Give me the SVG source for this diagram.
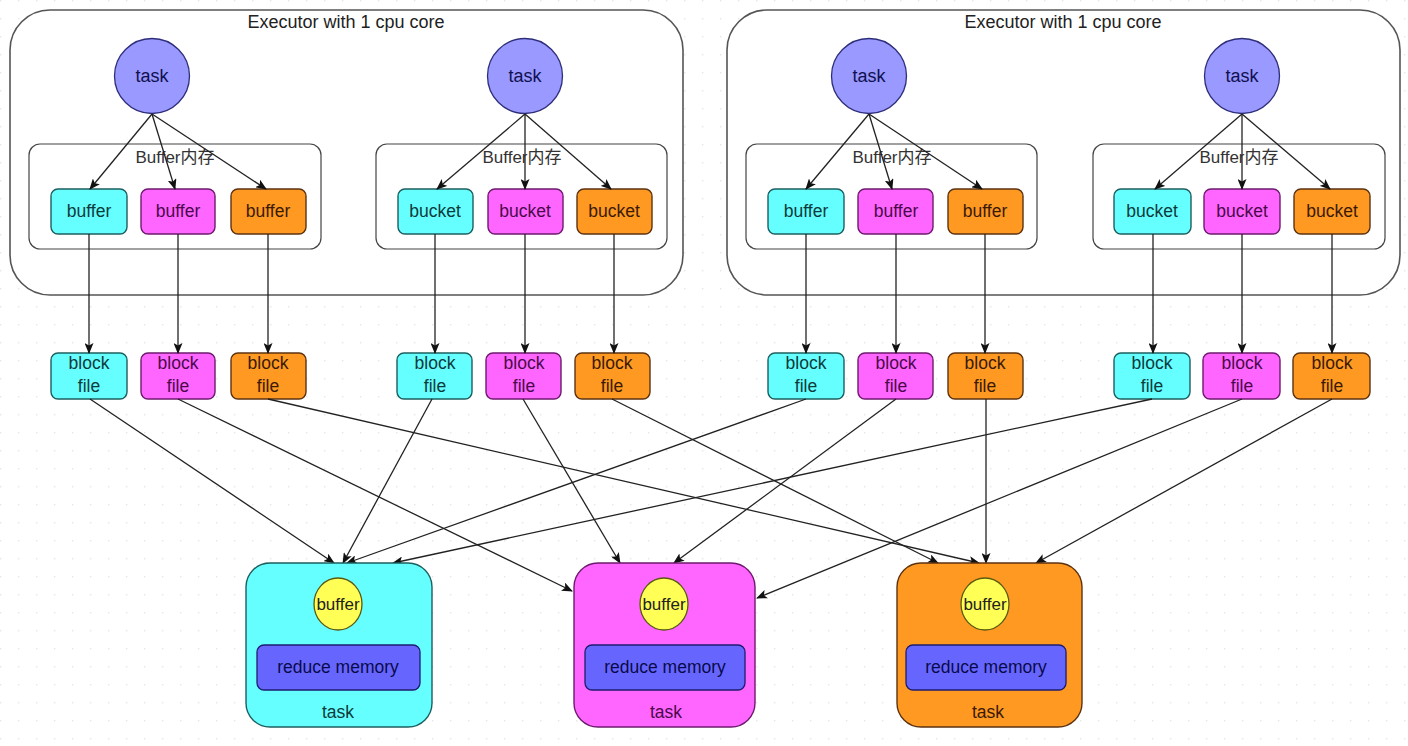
<svg xmlns="http://www.w3.org/2000/svg" width="1408" height="746" viewBox="0 0 1408 746">
<defs>
<pattern id="grid" width="18" height="18" patternUnits="userSpaceOnUse">
<rect x="0" y="0" width="1.4" height="1.4" fill="#e6e6e6"/>
</pattern>
<marker id="ah" markerWidth="11" markerHeight="9" refX="10" refY="4.5" orient="auto" markerUnits="userSpaceOnUse">
<path d="M0,0 L11,4.5 L0,9 L2.5,4.5 z" fill="#111"/>
</marker>
<style>
text{font-family:"Liberation Sans",Arial,"Noto Sans CJK SC",sans-serif;text-anchor:middle;}
.exec{fill:#fff;stroke:#555;stroke-width:1.6;}
.buf{fill:#fff;stroke:#444;stroke-width:1.2;}
.title{font-size:18px;fill:#222;}
.blab{font-size:17px;fill:#333;}
.tc{fill:#9999ff;stroke:#2e2e7a;stroke-width:1.3;}
.tct{font-size:18px;fill:#101050;}
.cy{fill:#66ffff;stroke:#1d5f5f;stroke-width:1.4;}
.mg{fill:#ff66ff;stroke:#6e1a6e;stroke-width:1.4;}
.or{fill:#ff9922;stroke:#5c3311;stroke-width:1.4;}
.cyt{font-size:17.5px;fill:#0d3b3b;}
.mgt{font-size:17.5px;fill:#4a0a4a;}
.ort{font-size:17.5px;fill:#3b1a05;}
.yc{fill:#ffff55;stroke:#5a5a10;stroke-width:1.3;}
.yct{font-size:17px;fill:#222;}
.rm{fill:#6666ff;stroke:#1d1d70;stroke-width:1.3;}
.rmt{font-size:17.5px;fill:#0a0a4a;}
.c{fill:none;stroke:#222;stroke-width:1.3;marker-end:url(#ah);}
</style>
</defs>
<rect x="0" y="0" width="1408" height="746" fill="#fff"/>
<rect x="0" y="0" width="1408" height="746" fill="url(#grid)"/>

<g id="executor1">
<rect class="exec" x="10" y="10" width="673" height="285" rx="40"/>
<text class="title" x="346" y="28">Executor with 1 cpu core</text>
</g>
<g id="executor2">
<rect class="exec" x="727" y="10" width="673" height="285" rx="40"/>
<text class="title" x="1063" y="28">Executor with 1 cpu core</text>
</g>

<g id="buffermem1"><rect class="buf" x="29" y="144" width="292" height="105" rx="11"/><text class="blab" x="175" y="163">Buffer内存</text></g>
<g id="buffermem2"><rect class="buf" x="376" y="144" width="291" height="105" rx="11"/><text class="blab" x="522" y="163">Buffer内存</text></g>
<g id="buffermem3"><rect class="buf" x="746" y="144" width="291" height="105" rx="11"/><text class="blab" x="892" y="163">Buffer内存</text></g>
<g id="buffermem4"><rect class="buf" x="1093" y="144" width="292" height="105" rx="11"/><text class="blab" x="1239" y="163">Buffer内存</text></g>

<g id="task1"><circle class="tc" cx="152" cy="76" r="37.5"/><text class="tct" x="152" y="82">task</text></g>
<g id="task2"><circle class="tc" cx="525" cy="76" r="37.5"/><text class="tct" x="525" y="82">task</text></g>
<g id="task3"><circle class="tc" cx="869" cy="76" r="37.5"/><text class="tct" x="869" y="82">task</text></g>
<g id="task4"><circle class="tc" cx="1242" cy="76" r="37.5"/><text class="tct" x="1242" y="82">task</text></g>

<g id="buf1c"><rect class="cy" x="51" y="189" width="76" height="45" rx="7"/><text class="cyt" x="89" y="217">buffer</text></g>
<g id="buf1m"><rect class="mg" x="141" y="189" width="74" height="45" rx="7"/><text class="mgt" x="178" y="217">buffer</text></g>
<g id="buf1o"><rect class="or" x="231" y="189" width="75" height="45" rx="7"/><text class="ort" x="268" y="217">buffer</text></g>
<g id="bkt2c"><rect class="cy" x="398" y="189" width="75" height="45" rx="7"/><text class="cyt" x="435" y="217">bucket</text></g>
<g id="bkt2m"><rect class="mg" x="488" y="189" width="75" height="45" rx="7"/><text class="mgt" x="525" y="217">bucket</text></g>
<g id="bkt2o"><rect class="or" x="577" y="189" width="75" height="45" rx="7"/><text class="ort" x="614" y="217">bucket</text></g>
<g id="buf3c"><rect class="cy" x="768" y="189" width="76" height="45" rx="7"/><text class="cyt" x="806" y="217">buffer</text></g>
<g id="buf3m"><rect class="mg" x="858" y="189" width="75" height="45" rx="7"/><text class="mgt" x="896" y="217">buffer</text></g>
<g id="buf3o"><rect class="or" x="948" y="189" width="75" height="45" rx="7"/><text class="ort" x="985" y="217">buffer</text></g>
<g id="bkt4c"><rect class="cy" x="1114" y="189" width="77" height="45" rx="7"/><text class="cyt" x="1152" y="217">bucket</text></g>
<g id="bkt4m"><rect class="mg" x="1204" y="189" width="76" height="45" rx="7"/><text class="mgt" x="1242" y="217">bucket</text></g>
<g id="bkt4o"><rect class="or" x="1294" y="189" width="76" height="45" rx="7"/><text class="ort" x="1332" y="217">bucket</text></g>

<g id="blk1c"><rect class="cy" x="51" y="353" width="76" height="46" rx="7"/><text class="cyt" x="89" y="369">block</text><text class="cyt" x="89" y="392">file</text></g>
<g id="blk1m"><rect class="mg" x="141" y="353" width="74" height="46" rx="7"/><text class="mgt" x="178" y="369">block</text><text class="mgt" x="178" y="392">file</text></g>
<g id="blk1o"><rect class="or" x="231" y="353" width="75" height="46" rx="7"/><text class="ort" x="268" y="369">block</text><text class="ort" x="268" y="392">file</text></g>
<g id="blk2c"><rect class="cy" x="397" y="353" width="75" height="46" rx="7"/><text class="cyt" x="435" y="369">block</text><text class="cyt" x="435" y="392">file</text></g>
<g id="blk2m"><rect class="mg" x="486" y="353" width="75" height="46" rx="7"/><text class="mgt" x="524" y="369">block</text><text class="mgt" x="524" y="392">file</text></g>
<g id="blk2o"><rect class="or" x="575" y="353" width="75" height="46" rx="7"/><text class="ort" x="612" y="369">block</text><text class="ort" x="612" y="392">file</text></g>
<g id="blk3c"><rect class="cy" x="768" y="353" width="76" height="46" rx="7"/><text class="cyt" x="806" y="369">block</text><text class="cyt" x="806" y="392">file</text></g>
<g id="blk3m"><rect class="mg" x="858" y="353" width="75" height="46" rx="7"/><text class="mgt" x="896" y="369">block</text><text class="mgt" x="896" y="392">file</text></g>
<g id="blk3o"><rect class="or" x="948" y="353" width="75" height="46" rx="7"/><text class="ort" x="985" y="369">block</text><text class="ort" x="985" y="392">file</text></g>
<g id="blk4c"><rect class="cy" x="1114" y="353" width="76" height="46" rx="7"/><text class="cyt" x="1152" y="369">block</text><text class="cyt" x="1152" y="392">file</text></g>
<g id="blk4m"><rect class="mg" x="1203" y="353" width="77" height="46" rx="7"/><text class="mgt" x="1242" y="369">block</text><text class="mgt" x="1242" y="392">file</text></g>
<g id="blk4o"><rect class="or" x="1293" y="353" width="77" height="46" rx="7"/><text class="ort" x="1332" y="369">block</text><text class="ort" x="1332" y="392">file</text></g>

<g id="connectors">
<line class="c" x1="152" y1="114" x2="90" y2="189"/>
<line class="c" x1="152" y1="114" x2="175" y2="189"/>
<line class="c" x1="152" y1="114" x2="266" y2="189"/>
<line class="c" x1="525" y1="114" x2="437" y2="189"/>
<line class="c" x1="525" y1="114" x2="525" y2="189"/>
<line class="c" x1="525" y1="114" x2="611" y2="189"/>
<line class="c" x1="869" y1="114" x2="806" y2="189"/>
<line class="c" x1="869" y1="114" x2="892" y2="189"/>
<line class="c" x1="869" y1="114" x2="982" y2="189"/>
<line class="c" x1="1242" y1="114" x2="1155" y2="189"/>
<line class="c" x1="1242" y1="114" x2="1242" y2="189"/>
<line class="c" x1="1242" y1="114" x2="1330" y2="189"/>

<line class="c" x1="89" y1="234" x2="89" y2="353"/>
<line class="c" x1="178" y1="234" x2="178" y2="353"/>
<line class="c" x1="268" y1="234" x2="268" y2="353"/>
<line class="c" x1="435" y1="234" x2="435" y2="353"/>
<line class="c" x1="525" y1="234" x2="525" y2="353"/>
<line class="c" x1="614" y1="234" x2="614" y2="353"/>
<line class="c" x1="806" y1="234" x2="806" y2="353"/>
<line class="c" x1="896" y1="234" x2="896" y2="353"/>
<line class="c" x1="985" y1="234" x2="985" y2="353"/>
<line class="c" x1="1153" y1="234" x2="1153" y2="353"/>
<line class="c" x1="1242" y1="234" x2="1242" y2="353"/>
<line class="c" x1="1332" y1="234" x2="1332" y2="353"/>

<line class="c" x1="90" y1="399" x2="334" y2="563"/>
<line class="c" x1="432" y1="399" x2="343" y2="563"/>
<line class="c" x1="806" y1="399" x2="347" y2="563"/>
<line class="c" x1="1152" y1="399" x2="393" y2="563"/>

<line class="c" x1="178" y1="399" x2="572" y2="591"/>
<line class="c" x1="523" y1="399" x2="620" y2="563"/>
<line class="c" x1="896" y1="399" x2="674" y2="563"/>
<line class="c" x1="1242" y1="399" x2="757" y2="598"/>

<line class="c" x1="268" y1="399" x2="979" y2="563"/>
<line class="c" x1="612" y1="399" x2="938" y2="563"/>
<line class="c" x1="986" y1="399" x2="986" y2="563"/>
<line class="c" x1="1332" y1="399" x2="1036" y2="563"/>
</g>

<g id="reduce1">
<rect class="cy" x="246" y="563" width="186" height="164" rx="24"/>
<ellipse class="yc" cx="338" cy="604" rx="24" ry="26"/>
<text class="yct" x="338" y="610">buffer</text>
<rect class="rm" x="257" y="645" width="163" height="45" rx="7"/>
<text class="rmt" x="338" y="673">reduce memory</text>
<text class="cyt" x="338" y="718">task</text>
</g>
<g id="reduce2">
<rect class="mg" x="574" y="563" width="181" height="164" rx="24"/>
<ellipse class="yc" cx="664" cy="604" rx="24" ry="26"/>
<text class="yct" x="664" y="610">buffer</text>
<rect class="rm" x="585" y="645" width="160" height="45" rx="7"/>
<text class="rmt" x="665" y="673">reduce memory</text>
<text class="mgt" x="666" y="718">task</text>
</g>
<g id="reduce3">
<rect class="or" x="897" y="563" width="185" height="164" rx="24"/>
<ellipse class="yc" cx="985" cy="604" rx="24" ry="26"/>
<text class="yct" x="985" y="610">buffer</text>
<rect class="rm" x="906" y="645" width="160" height="45" rx="7"/>
<text class="rmt" x="986" y="673">reduce memory</text>
<text class="ort" x="988" y="718">task</text>
</g>
</svg>
